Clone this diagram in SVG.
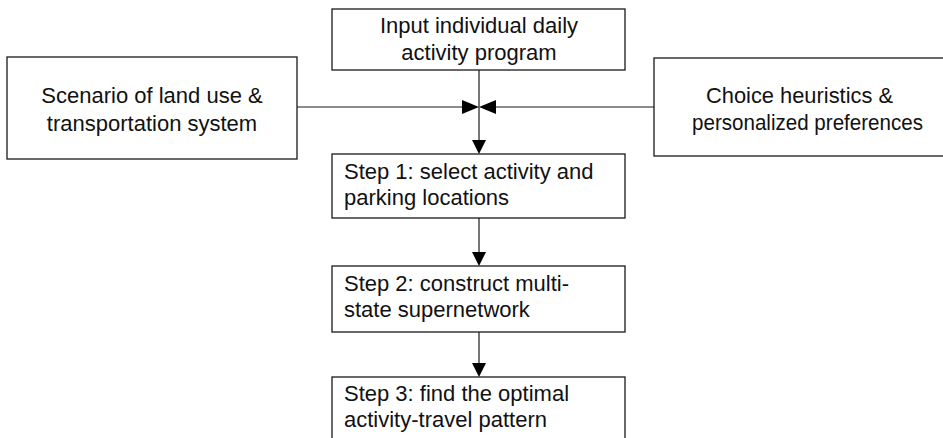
<svg xmlns="http://www.w3.org/2000/svg" width="943" height="438" viewBox="0 0 943 438">
  <defs>
    <style>
      .box { fill: #ffffff; stroke: #1a1a1a; stroke-width: 1.3; }
      .lbl { font-family: "Liberation Sans", Arial, sans-serif; font-size: 22px; fill: #111111; }
      .mid { text-anchor: middle; }
      .link { fill: none; stroke: #1a1a1a; stroke-width: 1.2; }
      .head { fill: #000000; stroke: none; }
    </style>
  </defs>
  <rect width="943" height="438" fill="#ffffff"/>

  <g id="input-program">
    <rect class="box" x="332" y="9" width="293" height="61"/>
    <text class="lbl mid" x="479" y="33">Input individual daily</text>
    <text class="lbl mid" x="479" y="60">activity program</text>
  </g>

  <g id="scenario">
    <rect class="box" x="7" y="57" width="290" height="102"/>
    <text class="lbl mid" x="152" y="103">Scenario of land use &amp;</text>
    <text class="lbl mid" x="152" y="131">transportation system</text>
  </g>

  <g id="heuristics">
    <rect class="box" x="654" y="58" width="300" height="98"/>
    <text class="lbl" x="706" y="103" textLength="187" lengthAdjust="spacingAndGlyphs">Choice heuristics &amp;</text>
    <text class="lbl" x="692" y="130" textLength="231" lengthAdjust="spacingAndGlyphs">personalized preferences</text>
  </g>

  <g id="step1">
    <rect class="box" x="332" y="154" width="293" height="64"/>
    <text class="lbl" x="344" y="179">Step 1: select activity and</text>
    <text class="lbl" x="344" y="205">parking locations</text>
  </g>

  <g id="step2">
    <rect class="box" x="332" y="266" width="293" height="66"/>
    <text class="lbl" x="344" y="291">Step 2: construct multi-</text>
    <text class="lbl" x="344" y="317">state supernetwork</text>
  </g>

  <g id="step3">
    <rect class="box" x="332" y="377" width="293" height="70"/>
    <text class="lbl" x="344" y="401">Step 3: find the optimal</text>
    <text class="lbl" x="344" y="427">activity-travel pattern</text>
  </g>

  <g id="connectors">
    <!-- side inputs meeting on the main flow line -->
    <line class="link" x1="297" y1="107" x2="463" y2="107"/>
    <polygon class="head" points="462,100 479,107 462,114"/>
    <line class="link" x1="654" y1="107" x2="494" y2="107"/>
    <polygon class="head" points="496,100 479,107 496,114"/>
    <!-- main downward flow -->
    <line class="link" x1="479" y1="70" x2="479" y2="141"/>
    <polygon class="head" points="472,140 486,140 479,154"/>
    <line class="link" x1="479" y1="218" x2="479" y2="253"/>
    <polygon class="head" points="472,252 486,252 479,266"/>
    <line class="link" x1="479" y1="332" x2="479" y2="364"/>
    <polygon class="head" points="472,363 486,363 479,377"/>
  </g>
</svg>
